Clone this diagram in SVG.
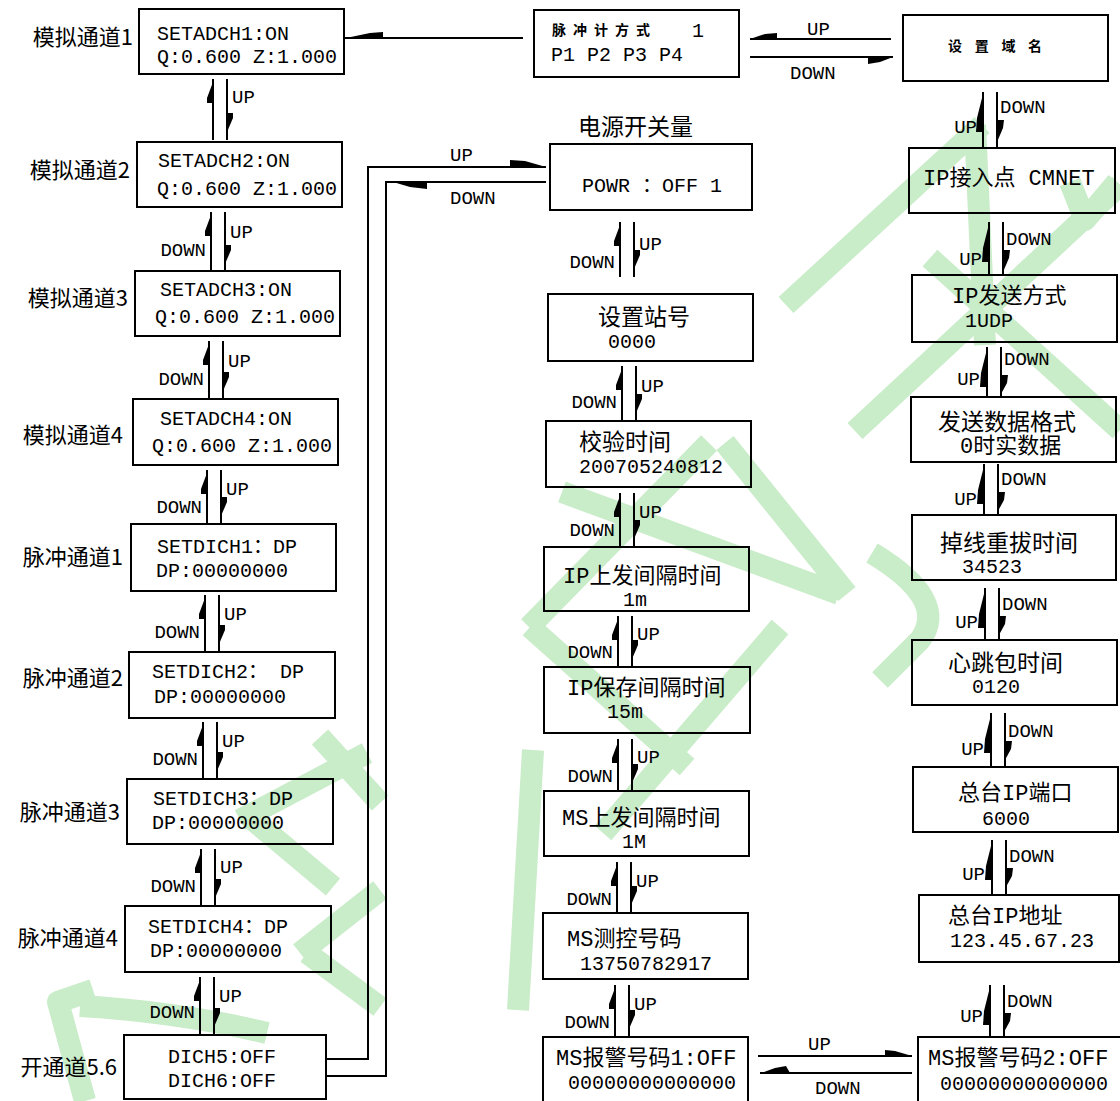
<svg xmlns="http://www.w3.org/2000/svg" width="1120" height="1101" viewBox="0 0 1120 1101">
<style>
.bx{fill:none;stroke:#000;stroke-width:2}
.ln{fill:none;stroke:#000;stroke-width:2}
.ah{fill:#000}
.t{font-family:"Liberation Mono","Noto Sans CJK SC",monospace;font-size:20px;fill:#000}
.m{font-family:"Liberation Mono","Noto Sans CJK SC",monospace;font-size:22px;fill:#000}
.cj{font-family:"Noto Sans CJK SC",sans-serif;font-size:23px;fill:#000}
.lab{font-family:"Noto Sans CJK SC",sans-serif;font-size:22px;fill:#000;text-anchor:end}
.u{font-family:"Liberation Mono",monospace;font-size:19px;fill:#000}
.d{font-family:"Liberation Mono",monospace;font-size:19px;fill:#000;text-anchor:end}
.sm{font-family:"Noto Sans CJK SC",sans-serif;font-size:14px;font-weight:700;fill:#000}
.wm{fill:none;stroke:#c9ecc9;stroke-width:22;stroke-linecap:butt;stroke-linejoin:round}
</style>
<rect width="1120" height="1101" fill="#fff"/>
<g id="watermark" class="wm">
<path d="M93,990 L58,1002 L85,1101"/>
<path d="M80,1006 Q180,1012 267,1033"/>
<path d="M320,737 L380,803"/>
<path d="M367,753 L240,820"/>
<path d="M253,820 L333,887"/>
<path d="M380,890 L300,953"/>
<path d="M307,953 L380,1007"/>
<path d="M709,443 L529,627"/>
<path d="M725,443 L847,594"/>
<path d="M562,492 L839,594"/>
<path d="M530,627 L687,767"/>
<path d="M780,627 L603,833"/>
<path d="M533,750 L518,1010"/>
<path d="M786,305 L982,125"/>
<path d="M975,125 L985,345"/>
<path d="M855,431 L1120,185"/>
<path d="M930,258 L1120,430"/>
<path d="M872,553 Q950,600 920,640 L880,680"/>
<path d="M1070,182 L1085,220 L1117,182"/>
</g>
<g id="connectors">
<g id="c-l1"><path class="ln" d="M213,79V140M227,79V140"/><polygon class="ah" points="213,82 207,98 207,103 213,103"/><polygon class="ah" points="227,113 233,113 233,118 227,132"/><text class="u" x="232" y="103">UP</text></g>
<g id="c-l2"><path class="ln" d="M211,212V272M225,212V272"/><polygon class="ah" points="211,215 205,231 205,236 211,236"/><polygon class="ah" points="225,245 231,245 231,250 225,264"/><text class="d" x="206" y="256">DOWN</text><text class="u" x="230" y="238">UP</text></g>
<g id="c-l3"><path class="ln" d="M209,341V399M223,341V399"/><polygon class="ah" points="209,344 203,360 203,365 209,365"/><polygon class="ah" points="223,372 229,372 229,377 223,391"/><text class="d" x="204" y="385">DOWN</text><text class="u" x="228" y="367">UP</text></g>
<g id="c-l4"><path class="ln" d="M207,470V524M221,470V524"/><polygon class="ah" points="207,473 201,489 201,494 207,494"/><polygon class="ah" points="221,497 227,497 227,502 221,516"/><text class="d" x="202" y="513">DOWN</text><text class="u" x="226" y="495">UP</text></g>
<g id="c-l5"><path class="ln" d="M205,595V652M219,595V652"/><polygon class="ah" points="205,598 199,614 199,619 205,619"/><polygon class="ah" points="219,625 225,625 225,630 219,644"/><text class="d" x="200" y="638">DOWN</text><text class="u" x="224" y="620">UP</text></g>
<g id="c-l6"><path class="ln" d="M203,722V779M217,722V779"/><polygon class="ah" points="203,725 197,741 197,746 203,746"/><polygon class="ah" points="217,752 223,752 223,757 217,771"/><text class="d" x="198" y="765">DOWN</text><text class="u" x="222" y="747">UP</text></g>
<g id="c-l7"><path class="ln" d="M201,849V906M215,849V906"/><polygon class="ah" points="201,852 195,868 195,873 201,873"/><polygon class="ah" points="215,879 221,879 221,884 215,898"/><text class="d" x="196" y="892">DOWN</text><text class="u" x="220" y="873">UP</text></g>
<g id="c-l8"><path class="ln" d="M200,977V1035M214,977V1035"/><polygon class="ah" points="200,980 194,996 194,1001 200,1001"/><polygon class="ah" points="214,1008 220,1008 220,1013 214,1027"/><text class="d" x="195" y="1018">DOWN</text><text class="u" x="219" y="1002">UP</text></g>
<g id="c-m1"><path class="ln" d="M620,222V277M634,222V277"/><polygon class="ah" points="620,225 614,241 614,246 620,246"/><polygon class="ah" points="634,250 640,250 640,255 634,269"/><text class="d" x="615" y="268">DOWN</text><text class="u" x="639" y="250">UP</text></g>
<g id="c-m2"><path class="ln" d="M622,366V421M636,366V421"/><polygon class="ah" points="622,369 616,385 616,390 622,390"/><polygon class="ah" points="636,394 642,394 642,399 636,413"/><text class="d" x="617" y="408">DOWN</text><text class="u" x="641" y="392">UP</text></g>
<g id="c-m3"><path class="ln" d="M620,493V547M634,493V547"/><polygon class="ah" points="620,496 614,512 614,517 620,517"/><polygon class="ah" points="634,520 640,520 640,525 634,539"/><text class="d" x="615" y="536">DOWN</text><text class="u" x="639" y="518">UP</text></g>
<g id="c-m4"><path class="ln" d="M618,616V667M632,616V667"/><polygon class="ah" points="618,619 612,635 612,640 618,640"/><polygon class="ah" points="632,640 638,640 638,645 632,659"/><text class="d" x="613" y="658">DOWN</text><text class="u" x="637" y="640">UP</text></g>
<g id="c-m5"><path class="ln" d="M618,739V791M632,739V791"/><polygon class="ah" points="618,742 612,758 612,763 618,763"/><polygon class="ah" points="632,764 638,764 638,769 632,783"/><text class="d" x="613" y="782">DOWN</text><text class="u" x="637" y="763">UP</text></g>
<g id="c-m6"><path class="ln" d="M617,862V913M631,862V913"/><polygon class="ah" points="617,865 611,881 611,886 617,886"/><polygon class="ah" points="631,886 637,886 637,891 631,905"/><text class="d" x="612" y="905">DOWN</text><text class="u" x="636" y="887">UP</text></g>
<g id="c-m7"><path class="ln" d="M615,985V1037M629,985V1037"/><polygon class="ah" points="615,988 609,1004 609,1009 615,1009"/><polygon class="ah" points="629,1010 635,1010 635,1015 629,1029"/><text class="d" x="610" y="1028">DOWN</text><text class="u" x="634" y="1010">UP</text></g>
<g id="c-r1"><path class="ln" d="M983,92V148M997,92V148"/><polygon class="ah" points="983,94 977,118 976,132 983,132"/><polygon class="ah" points="997,120 1004,120 1003,128 997,142"/><text class="u" x="1000" y="113">DOWN</text><text class="d" x="977" y="133">UP</text></g>
<g id="c-r2"><path class="ln" d="M989,222V275M1003,222V275"/><polygon class="ah" points="989,224 983,248 982,262 989,262"/><polygon class="ah" points="1003,250 1010,250 1009,258 1003,272"/><text class="u" x="1006" y="245">DOWN</text><text class="d" x="982" y="265">UP</text></g>
<g id="c-r3"><path class="ln" d="M987,347V397M1001,347V397"/><polygon class="ah" points="987,349 981,373 980,387 987,387"/><polygon class="ah" points="1001,375 1008,375 1007,383 1001,394"/><text class="u" x="1004" y="365">DOWN</text><text class="d" x="980" y="385">UP</text></g>
<g id="c-r4"><path class="ln" d="M984,464V515M998,464V515"/><polygon class="ah" points="984,466 978,490 977,504 984,504"/><polygon class="ah" points="998,492 1005,492 1004,500 998,511"/><text class="u" x="1001" y="485">DOWN</text><text class="d" x="977" y="505">UP</text></g>
<g id="c-r5"><path class="ln" d="M985,588V640M999,588V640"/><polygon class="ah" points="985,590 979,614 978,628 985,628"/><polygon class="ah" points="999,616 1006,616 1005,624 999,635"/><text class="u" x="1002" y="610">DOWN</text><text class="d" x="978" y="628">UP</text></g>
<g id="c-r6"><path class="ln" d="M991,713V767M1005,713V767"/><polygon class="ah" points="991,715 985,739 984,753 991,753"/><polygon class="ah" points="1005,741 1012,741 1011,749 1005,760"/><text class="u" x="1008" y="737">DOWN</text><text class="d" x="984" y="755">UP</text></g>
<g id="c-r7"><path class="ln" d="M992,840V895M1006,840V895"/><polygon class="ah" points="992,842 986,866 985,880 992,880"/><polygon class="ah" points="1006,868 1013,868 1012,876 1006,887"/><text class="u" x="1009" y="862">DOWN</text><text class="d" x="985" y="880">UP</text></g>
<g id="c-r8"><path class="ln" d="M990,985V1037M1004,985V1037"/><polygon class="ah" points="990,987 984,1011 983,1025 990,1025"/><polygon class="ah" points="1004,1013 1011,1013 1010,1021 1004,1032"/><text class="u" x="1007" y="1007">DOWN</text><text class="d" x="983" y="1022">UP</text></g>
<g id="c-h1"><path class="ln" d="M344,38H523"/><polygon class="ah" points="346,38 383,38 383,32 370,33"/></g>
<g id="c-h2"><path class="ln" d="M750,39H891M750,57H893"/><polygon class="ah" points="750,39 777,39 777,33 765,34"/><polygon class="ah" points="893,57 868,57 868,64 880,62"/><text class="u" x="807" y="35">UP</text><text class="u" x="790" y="79">DOWN</text></g>
<g id="c-h3"><path class="ln" d="M326,1059H368V167H546M326,1076H386V182H546"/><polygon class="ah" points="546,167 510,167 510,160 525,161"/><polygon class="ah" points="393,182 427,182 427,189 410,187"/><text class="u" x="450" y="161">UP</text><text class="u" x="450" y="204">DOWN</text></g>
<g id="c-h4"><path class="ln" d="M758,1056H912M760,1073H912"/><polygon class="ah" points="912,1056 885,1056 885,1050 895,1051"/><polygon class="ah" points="761,1073 790,1073 786,1066 775,1068"/><text class="u" x="808" y="1050">UP</text><text class="u" x="815" y="1094">DOWN</text></g>
</g>
<g id="n-adch1"><rect class="bx" x="139" y="9" width="205" height="65"/><text class="lab" x="133" y="45">模拟通道1</text><text class="t" x="157" y="40">SETADCH1:ON</text><text class="t" x="157" y="63">Q:0.600 Z:1.000</text></g>
<g id="n-adch2"><rect class="bx" x="137" y="142" width="205" height="65"/><text class="lab" x="130" y="178">模拟通道2</text><text class="t" x="158" y="167">SETADCH2:ON</text><text class="t" x="157" y="195">Q:0.600 Z:1.000</text></g>
<g id="n-adch3"><rect class="bx" x="135" y="271" width="205" height="65"/><text class="lab" x="128" y="306">模拟通道3</text><text class="t" x="160" y="296">SETADCH3:ON</text><text class="t" x="155" y="323">Q:0.600 Z:1.000</text></g>
<g id="n-adch4"><rect class="bx" x="133" y="399" width="205" height="66"/><text class="lab" x="123" y="443">模拟通道4</text><text class="t" x="160" y="425">SETADCH4:ON</text><text class="t" x="152" y="452">Q:0.600 Z:1.000</text></g>
<g id="n-dich1"><rect class="bx" x="131" y="524" width="205" height="67"/><text class="lab" x="123" y="565">脉冲通道1</text><text class="t" x="157" y="553">SETDICH1：DP</text><text class="t" x="156" y="577">DP:00000000</text></g>
<g id="n-dich2"><rect class="bx" x="129" y="652" width="206" height="66"/><text class="lab" x="123" y="686">脉冲通道2</text><text class="t" x="152" y="678">SETDICH2： DP</text><text class="t" x="154" y="703">DP:00000000</text></g>
<g id="n-dich3"><rect class="bx" x="127" y="779" width="206" height="65"/><text class="lab" x="120" y="820">脉冲通道3</text><text class="t" x="153" y="805">SETDICH3：DP</text><text class="t" x="152" y="829">DP:00000000</text></g>
<g id="n-dich4"><rect class="bx" x="125" y="906" width="206" height="66"/><text class="lab" x="118" y="946">脉冲通道4</text><text class="t" x="148" y="933">SETDICH4：DP</text><text class="t" x="150" y="957">DP:00000000</text></g>
<g id="n-dich56"><rect class="bx" x="124" y="1035" width="202" height="64"/><text class="lab" x="117" y="1075">开通道5.6</text><text class="t" x="168" y="1063">DICH5:OFF</text><text class="t" x="168" y="1087">DICH6:OFF</text></g>
<g id="n-pulse"><rect class="bx" x="534" y="10" width="205" height="67"/><text class="sm" x="552" y="35" letter-spacing="7">脉冲计方式</text><text class="t" x="692" y="37">1</text><text class="t" x="551" y="61">P1 P2 P3 P4</text></g>
<g id="n-powr"><text class="cj" x="578" y="135">电源开关量</text><rect class="bx" x="550" y="144" width="202" height="66"/><text class="t" x="582" y="192">POWR ：OFF 1</text></g>
<g id="n-station"><rect class="bx" x="548" y="294" width="205" height="67"/><text class="cj" x="598" y="325">设置站号</text><text class="t" x="608" y="348">0000</text></g>
<g id="n-check"><rect class="bx" x="546" y="421" width="205" height="66"/><text class="cj" x="579" y="450">校验时间</text><text class="t" x="579" y="473">200705240812</text></g>
<g id="n-ipup"><rect class="bx" x="544" y="547" width="205" height="64"/><text class="m" x="563" y="583">IP上发间隔时间</text><text class="t" x="623" y="606">1m</text></g>
<g id="n-ipsave"><rect class="bx" x="544" y="667" width="206" height="66"/><text class="m" x="567" y="695">IP保存间隔时间</text><text class="t" x="607" y="718">15m</text></g>
<g id="n-msup"><rect class="bx" x="544" y="791" width="205" height="65"/><text class="m" x="562" y="825">MS上发间隔时间</text><text class="t" x="622" y="848">1M</text></g>
<g id="n-mstel"><rect class="bx" x="543" y="913" width="205" height="66"/><text class="m" x="567" y="946">MS测控号码</text><text class="t" x="580" y="970">13750782917</text></g>
<g id="n-alarm1"><path class="bx" d="M543,1105V1037H748V1105"/><text class="m" x="556" y="1065">MS报警号码1:OFF</text><text class="t" x="568" y="1089">00000000000000</text></g>
<g id="n-domain"><rect class="bx" x="903" y="15" width="205" height="66"/><text class="sm" x="948" y="51" letter-spacing="12.7">设置域名</text></g>
<g id="n-apn"><rect class="bx" x="909" y="148" width="206" height="65"/><text class="m" x="923" y="185">IP接入点 CMNET</text></g>
<g id="n-ipmode"><rect class="bx" x="912" y="275" width="205" height="67"/><text class="m" x="952" y="303">IP发送方式</text><text class="t" x="965" y="327">1UDP</text></g>
<g id="n-format"><rect class="bx" x="911" y="397" width="205" height="65"/><text class="cj" x="938" y="430">发送数据格式</text><text class="m" x="960" y="453">0时实数据</text></g>
<g id="n-redial"><rect class="bx" x="912" y="515" width="204" height="65"/><text class="cj" x="940" y="551">掉线重拔时间</text><text class="t" x="962" y="573">34523</text></g>
<g id="n-heart"><rect class="bx" x="912" y="640" width="205" height="65"/><text class="cj" x="948" y="671">心跳包时间</text><text class="t" x="972" y="693">0120</text></g>
<g id="n-port"><rect class="bx" x="913" y="767" width="205" height="65"/><text class="m" x="958" y="800">总台IP端口</text><text class="t" x="982" y="825">6000</text></g>
<g id="n-addr"><rect class="bx" x="919" y="895" width="200" height="67"/><text class="m" x="948" y="923">总台IP地址</text><text class="t" x="950" y="947">123.45.67.23</text></g>
<g id="n-alarm2"><path class="bx" d="M1122,1037H918V1105"/><text class="m" x="928" y="1065">MS报警号码2:OFF</text><text class="t" x="940" y="1090">00000000000000</text></g>
</svg>
